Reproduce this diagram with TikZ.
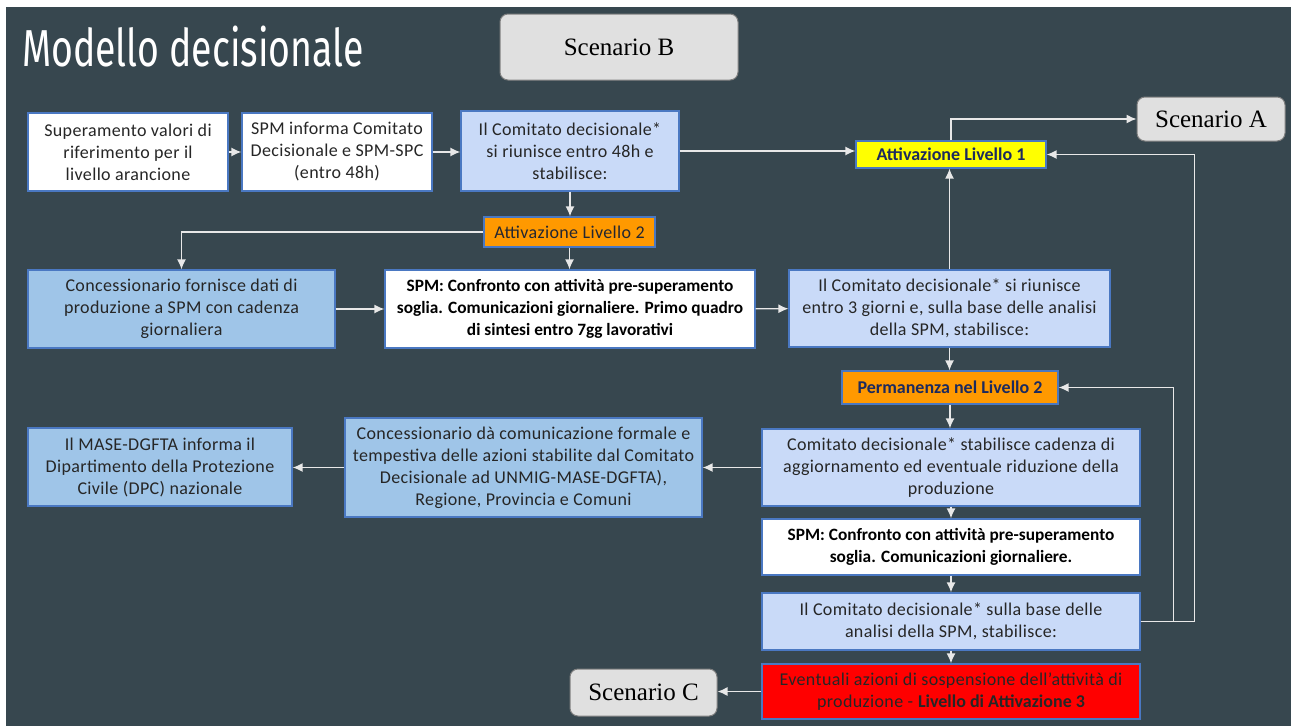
\documentclass[tikz,border=0pt]{standalone}
\usepackage{fontspec}
\usetikzlibrary{arrows.meta,positioning}

\newfontfamily\bodyfont[LetterSpace=2,BoldFeatures={LetterSpace=0}]{Carlito}
\newfontfamily\titlefont{Fira Sans}
\newfontfamily\scenfont{Liberation Serif}

\definecolor{slate}{HTML}{37474F}
\definecolor{boxline}{HTML}{4A78C2}
\definecolor{paleblue}{HTML}{C9DAF8}
\definecolor{midblue}{HTML}{9FC5E8}
\definecolor{amber}{HTML}{FF9900}
\definecolor{lemon}{HTML}{FFFF00}
\definecolor{alarm}{HTML}{FF0000}
\definecolor{scengray}{HTML}{E0E0E0}
\definecolor{wire}{HTML}{E8E8E8}
\definecolor{ink}{HTML}{262626}
\definecolor{navy}{HTML}{1C2A5E}

\begin{document}
\begin{tikzpicture}
        [x=1pt,y=-1pt,>={Latex[length=10pt,width=9pt]},
        box/.style={draw=boxline,line width=1.2pt,align=center,inner sep=0pt,text=ink,
            font=\bodyfont\fontsize{18}{22}\selectfont},
        whitebox/.style={box,fill=white},
        boldbox/.style={box,fill=white,text=black,font=\bodyfont\bfseries\fontsize{17.3}{22}\selectfont},
        palebox/.style={box,fill=paleblue},
        midbox/.style={box,fill=midblue},
        levelbox/.style={box,font=\bodyfont\fontsize{18}{20}\selectfont},
        scenbox/.style={draw=gray,line width=1pt,fill=scengray,rounded corners=8pt,
            inner sep=0pt,text=black,font=\scenfont\fontsize{25}{28}\selectfont},
        arr/.style={->,draw=wire,line width=1.4pt}]

        % page and background
        \fill[white] (0,0) rectangle (1291,726);
        \fill[slate] (6,7) rectangle (1291,726);
        \useasboundingbox (0,0) rectangle (1291,726);

        \node[anchor=base west,text=white,inner sep=0pt] (title) at (22,66)
            {\titlefont\fontsize{52}{56}\selectfont\scalebox{0.72}[1]{Modello decisionale}};

        % scenarios
        \node[scenbox,minimum width=238pt,minimum height=66pt] (scenB) at (619,47) {Scenario B};
        \node[scenbox,minimum width=148pt,minimum height=44pt] (scenA) at (1211,119) {Scenario A};
        \node[scenbox,minimum width=147pt,minimum height=47pt] (scenC) at (643.5,692.5) {Scenario C};

        % first row
        \node[whitebox,minimum width=200pt,minimum height=78pt] (sup) at (128,152)
            {Superamento valori di\\riferimento per il\\livello arancione};
        \node[whitebox,minimum width=190pt,minimum height=78pt] (info) at (337,152)
            {SPM informa Comitato\\Decisionale e SPM-SPC\\(entro 48h)};
        \node[palebox,minimum width=218pt,minimum height=80pt] (meet1) at (570,151)
            {Il Comitato decisionale*\\si riunisce entro 48h e\\stabilisce:};
        \node[levelbox,fill=lemon,minimum width=190pt,minimum height=27pt,text=navy] (lev1) at (951,154.5)
            {\bfseries Attivazione Livello 1};

        % level 2
        \node[levelbox,fill=amber,minimum width=171pt,minimum height=30pt,text=ink!80!navy] (lev2) at (569.5,232)
            {Attivazione Livello 2};
        \node[midbox,minimum width=307pt,minimum height=78pt] (data) at (181.5,309)
            {Concessionario fornisce dati di\\produzione a SPM con cadenza\\giornaliera};
        \node[boldbox,minimum width=370pt,minimum height=78pt] (cmp1) at (570,309)
            {SPM: Confronto con attività pre-superamento\\soglia. Comunicazioni giornaliere. Primo quadro\\di sintesi entro 7gg lavorativi};
        \node[palebox,minimum width=321pt,minimum height=77pt] (meet3) at (949.5,308.5)
            {Il Comitato decisionale* si riunisce\\entro 3 giorni e, sulla base delle analisi\\della SPM, stabilisce:};
        \node[levelbox,fill=amber,minimum width=216pt,minimum height=33pt,text=navy] (stay) at (950,387.5)
            {\bfseries Permanenza nel Livello 2};

        % right column
        \node[palebox,minimum width=378pt,minimum height=77pt] (rate) at (951,467.5)
            {Comitato decisionale* stabilisce cadenza di\\aggiornamento ed eventuale riduzione della\\produzione};
        \node[boldbox,minimum width=378pt,minimum height=56pt] (cmp2) at (951,547)
            {SPM: Confronto con attività pre-superamento\\soglia. Comunicazioni giornaliere.};
        \node[palebox,minimum width=378pt,minimum height=57pt] (meet4) at (951,621.5)
            {Il Comitato decisionale* sulla base delle\\analisi della SPM, stabilisce:};
        \node[box,fill=alarm,minimum width=378pt,minimum height=55pt] (stop) at (951,691.5)
            {Eventuali azioni di sospensione dell’attività di\\produzione - \textbf{Livello di Attivazione 3}};

        % left column
        \node[midbox,minimum width=357pt,minimum height=99pt] (notice) at (523.5,467.5)
            {Concessionario dà comunicazione formale e\\tempestiva delle azioni stabilite dal Comitato\\Decisionale ad UNMIG-MASE-DGFTA),\\Regione, Provincia e Comuni};
        \node[midbox,minimum width=264pt,minimum height=78pt] (mase) at (160,467)
            {Il MASE-DGFTA informa il\\Dipartimento della Protezione\\Civile (DPC) nazionale};

        % connectors
        \draw[arr] (sup) -- (info);
        \draw[arr] (info.east) -- (info.east -| meet1.west);
        \draw[arr] (meet1.east) -- (meet1.east -| lev1.west);
        \draw[arr] (meet1.south) -- (meet1.south |- lev2.north);
        \draw[arr] (lev2.west) -| (data.north);
        \draw[arr] (lev2.south) -- (lev2.south |- cmp1.north);
        \draw[arr] (data) -- (cmp1);
        \draw[arr] (cmp1) -- (meet3);
        \draw[arr] (meet3.north) -- (meet3.north |- lev1.south);
        \draw[arr] (lev1.north) |- (scenA.west);
        \draw[arr] (meet3.south) -- (meet3.south |- stay.north);
        \draw[arr] (stay.south) -- (stay.south |- rate.north);
        \draw[arr] (rate.west) -- (rate.west -| notice.east);
        \draw[arr] (notice.west) -- (notice.west -| mase.east);
        \draw[arr] (rate) -- (cmp2);
        \draw[arr] (cmp2) -- (meet4);
        \draw[arr] (meet4) -- (stop);
        \draw[arr] (meet4.east) -- ++(33,0) |- (stay.east);
        \draw[arr] (meet4.east) -- ++(54,0) |- (lev1.east);
        \draw[arr] (stop.west) -- (stop.west -| scenC.east);

    \end{tikzpicture}
\end{document}
